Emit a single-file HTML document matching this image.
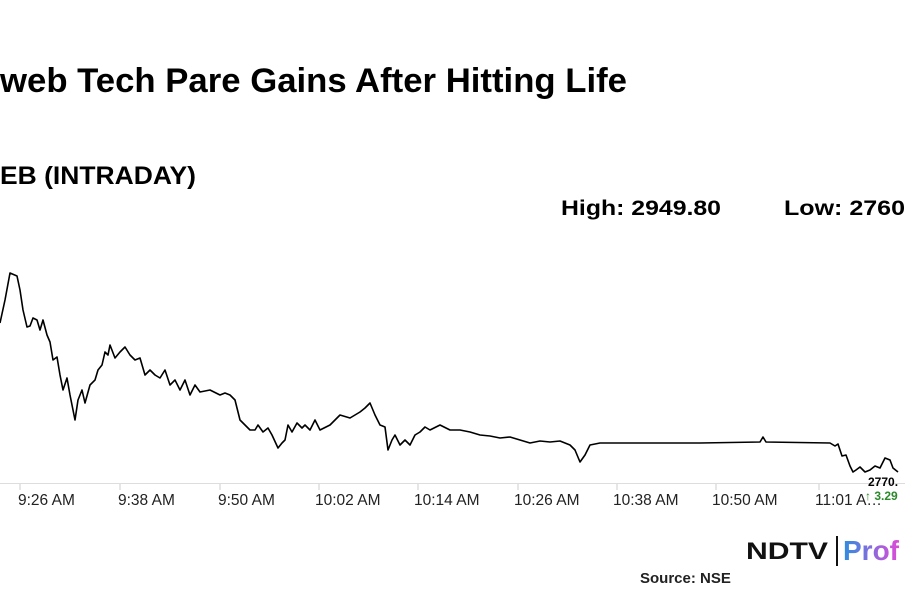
<!DOCTYPE html>
<html><head><meta charset="utf-8"><style>
html,body{margin:0;padding:0;background:#fff;width:905px;height:613px;overflow:hidden}
svg{display:block}
text{font-family:"Liberation Sans",sans-serif}
</style></head><body>
<svg width="905" height="613" viewBox="0 0 905 613">
<text x="0" y="92" font-size="34" font-weight="bold" textLength="627" lengthAdjust="spacingAndGlyphs">web Tech Pare Gains After Hitting Life</text>
<text x="0" y="184" font-size="25" font-weight="bold" textLength="196" lengthAdjust="spacingAndGlyphs">EB (INTRADAY)</text>
<text x="561" y="215" font-size="21" font-weight="bold" textLength="160" lengthAdjust="spacingAndGlyphs">High: 2949.80</text>
<text x="784" y="215" font-size="21" font-weight="bold" textLength="121" lengthAdjust="spacingAndGlyphs">Low: 2760</text>
<line x1="0" y1="483.5" x2="905" y2="483.5" stroke="#ddd" stroke-width="1"/>
<g stroke="#ccc" stroke-width="1">
<line x1="20" y1="484" x2="20" y2="490"/><line x1="120" y1="484" x2="120" y2="490"/><line x1="220" y1="484" x2="220" y2="490"/><line x1="319" y1="484" x2="319" y2="490"/><line x1="418" y1="484" x2="418" y2="490"/><line x1="518" y1="484" x2="518" y2="490"/><line x1="617" y1="484" x2="617" y2="490"/><line x1="716" y1="484" x2="716" y2="490"/><line x1="819" y1="484" x2="819" y2="490"/>
</g>
<g font-size="15.5" fill="#222">
<text x="18" y="505">9:26 AM</text><text x="118" y="505">9:38 AM</text><text x="218" y="505">9:50 AM</text><text x="315" y="505">10:02 AM</text><text x="414" y="505">10:14 AM</text><text x="514" y="505">10:26 AM</text><text x="613" y="505">10:38 AM</text><text x="712" y="505">10:50 AM</text><text x="815" y="505">11:01 A…</text>
</g>
<polyline fill="none" stroke="#000" stroke-width="1.6" stroke-linejoin="round" points="0,323 5,300 10,273 17,276 20,290 23,310 27,327 30,326 33,318 37,320 40,330 43,320 47,335 50,342 53,360 57,357 60,375 63,390 67,378 70,395 75,420 78,400 82,390 85,403 90,385 95,380 98,370 102,365 105,352 108,355 110,345 115,358 120,352 125,347 130,355 135,360 140,358 145,375 150,370 155,375 160,378 165,370 170,385 175,380 180,390 185,380 190,395 195,385 200,392 210,390 220,395 225,393 230,395 235,400 240,420 245,425 250,430 255,430 258,425 263,432 268,428 272,435 278,448 282,443 285,440 288,425 292,432 297,423 302,428 305,425 310,430 315,420 320,430 330,425 340,415 350,418 360,412 365,408 370,403 375,415 380,425 385,427 388,450 392,440 395,435 400,445 405,440 410,445 415,435 420,432 425,427 430,430 440,425 450,430 460,430 470,432 480,435 490,436 500,438 510,437 520,440 530,443 540,441 550,442 560,441 570,445 575,450 580,462 585,455 590,445 600,443 700,443 760,442 763,437 766,442 830,443 835,446 838,444 842,456 846,455 850,466 853,472 856,470 860,467 865,472 870,470 875,466 880,468 885,458 890,460 893,468 898,472"/>
<text x="868" y="486" font-size="12" font-weight="bold" fill="#000">2770.</text>
<text x="865" y="500" font-size="12" font-weight="bold" fill="#2a8a2a">↑ 3.29</text>
<text x="746" y="559" font-size="24" font-weight="bold" fill="#111" textLength="82" lengthAdjust="spacingAndGlyphs">NDTV</text>
<line x1="837" y1="536" x2="837" y2="566" stroke="#111" stroke-width="2"/>
<defs><linearGradient id="g" x1="0" x2="1"><stop offset="0" stop-color="#2d8ee0"/><stop offset="1" stop-color="#e04ad8"/></linearGradient></defs>
<text x="843" y="560" font-size="28" font-weight="bold" fill="url(#g)">Prof</text>
<text x="640" y="583" font-size="15" font-weight="bold" fill="#222">Source: NSE</text>
</svg>
</body></html>
